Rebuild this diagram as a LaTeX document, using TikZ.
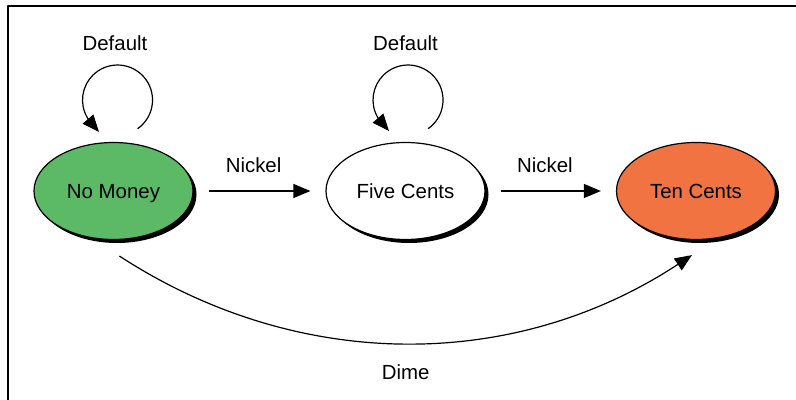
\documentclass[tikz,border=0pt]{standalone}
\usepackage{fontspec}
\setmainfont{Liberation Sans}
\usepackage{tikz}
\usetikzlibrary{arrows.meta,shapes,shadows}
\definecolor{moneygreen}{rgb}{0.36,0.73,0.40}
\definecolor{centsorange}{rgb}{0.95,0.45,0.26}

\begin{document}
\begin{tikzpicture}[>={Triangle[length=17bp,width=14bp]},line join=bevel,
  state/.style={draw,ellipse,line width=1.2bp,minimum width=159bp,minimum height=97bp,inner sep=0pt,
    text depth=0pt,font=\fontsize{20.5}{24}\selectfont,
    drop shadow={shadow xshift=3.5bp,shadow yshift=-3.5bp,fill=black,opacity=1}},
  lbl/.style={font=\fontsize{20.5}{24}\selectfont},
  trans/.style={->,line width=1.2bp}]
%%
  \useasboundingbox (0.0bp,0.0bp) rectangle (796.0bp,400.0bp);
  \draw [line width=2.2bp] (8.0bp,0.0bp) -- (8.0bp,394.0bp) -- (796.0bp,394.0bp);
%
  \node (nomoney) at (113.5bp,209.0bp) [state,fill=moneygreen] {No Money};
  \node (fivecents) at (405.5bp,209.0bp) [state,fill=white] {Five Cents};
  \node (tencents) at (696.0bp,209.0bp) [state,fill=centsorange] {Ten Cents};
  \node (dflt1) at ([shift={(1.5bp,148.0bp)}]nomoney.center) [lbl] {Default};
  \node (dflt2) at ([shift={(0.0bp,148.0bp)}]fivecents.center) [lbl] {Default};
%
  \draw [trans] ([shift={(24.1bp,62.3bp)}]nomoney.center) arc[start angle=-55,end angle=200,radius=35bp]
    ..controls +(3bp,-8bp) and +(-6bp,7bp) .. ([shift={(-14.5bp,59.0bp)}]nomoney.center);
  \draw [trans] ([shift={(22.6bp,62.3bp)}]fivecents.center) arc[start angle=-55,end angle=200,radius=35bp]
    ..controls +(3bp,-8bp) and +(-6bp,7bp) .. ([shift={(-16.5bp,60.0bp)}]fivecents.center);
  \draw [trans,shorten <=15bp,shorten >=15bp] (nomoney) -- node[lbl,pos=0.455,yshift=26bp] {Nickel} (fivecents);
  \draw [trans,shorten <=15bp,shorten >=15bp] (fivecents) -- node[lbl,pos=0.455,yshift=26bp] {Nickel} (tencents);
  \draw [trans] ([shift={(6.0bp,-16.0bp)}]nomoney.south) ..controls +(178bp,-116bp) and +(-178bp,-117bp) .. node[lbl,pos=0.5,yshift=-29bp] {Dime} ([shift={(-4.0bp,-15.0bp)}]tencents.south);
%
\end{tikzpicture}
\end{document}
